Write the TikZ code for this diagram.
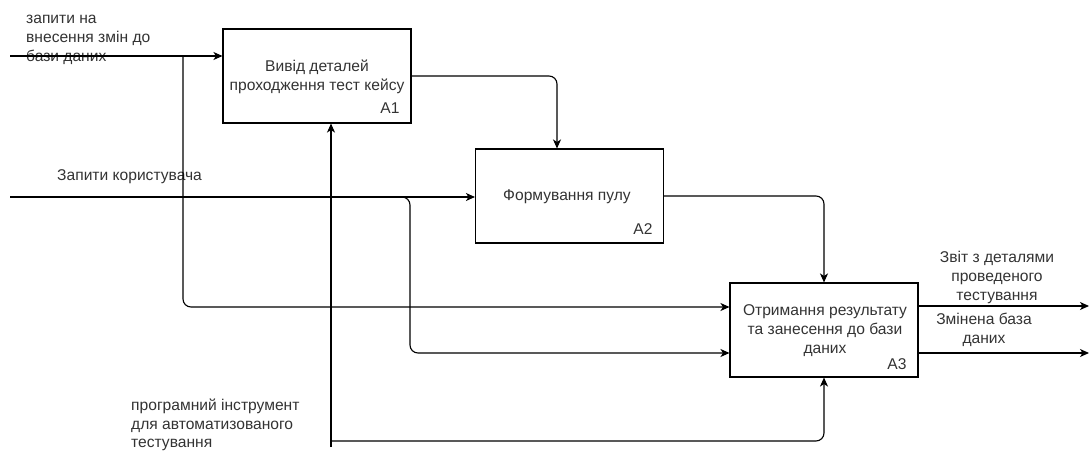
\documentclass[tikz,border=0pt]{standalone}
\usepackage{fontspec}
\setmainfont{Liberation Sans}
\usetikzlibrary{arrows.meta,calc}
\begin{document}
\begin{tikzpicture}[x=1pt,y=-1pt,
  box/.style={draw=black,line width=1.1pt,minimum width=188pt,minimum height=94pt,inner sep=0pt},
  txt/.style={text=black!80,font=\fontsize{15.6}{19}\selectfont,inner sep=0pt,align=center},
  ltxt/.style={txt,align=left},
  conn/.style={line width=1.1pt,draw=black},
  arr/.style={conn,-{Stealth[length=9pt,width=8pt,inset=2.5pt]}},
  rc/.style={rounded corners=8pt}]
\useasboundingbox (0,0) rectangle (1089,452);
% boxes
\node[box] (A1) at (317,76) {};
\node[box] (A2) at (569.5,196) {};
\node[box] (A3) at (824,330) {};
% box texts
\node[txt] (t1) at (317,77) {Вивід деталей\\проходження тест кейсу};
\node[txt] (n1) at (390,108) {A1};
\node[txt] (t2) at (567,197) {Формування пулу};
\node[txt] (n2) at (643,229) {A2};
\node[txt] (t3) at (825,331) {Отримання результату\\та занесення до бази\\даних};
\node[txt] (n3) at (897,364) {A3};
% labels
\node[ltxt,anchor=west] (l1) at (26,40) {запити на\\внесення змін до\\бази даних};
\node[ltxt,anchor=west] (l2) at (57,177) {Запити користувача};
\node[ltxt,anchor=south west,font=\fontsize{15.6}{18.5}\selectfont] (l3) at (131,451) {програмний інструмент\\для автоматизованого\\тестування};
\node[txt] (l4) at (997,277) {Звіт з деталями\\проведеного\\тестування};
\node[txt] (l5) at (984,330) {Змінена база\\даних};
% coordinates
\coordinate (in1) at (10,56);
\coordinate (j1) at (183,56);
\coordinate (in2) at (10,197);
\coordinate (j2) at (410,197);
\coordinate (c1) at (331,447);
\coordinate (c2) at (331,441);
\coordinate (o1) at (1089,306);
\coordinate (o2) at (1089,353);
% connectors
\draw[arr] (in1) -- (in1 -| A1.west);
\draw[arr,rc] (j1) |- ($(A3.west)+(0,-23)$);
\draw[arr,rc] (A1.east) -| ($(A2.north)+(-12.5,0)$);
\draw[arr] (in2) -- (in2 -| A2.west);
\draw[arr,rc] (in2) -| ($(j2)+(0,156)$) -- ($(A3.west)+(0,23)$);
\draw[arr,rc] (A2.east) -| (A3.north);
\draw[arr] (c1) -- (c1 |- A1.south);
\draw[arr,rc] (c2) -| (A3.south);
\draw[arr] ($(A3.east)+(0,-24)$) -- (o1);
\draw[arr] ($(A3.east)+(0,23)$) -- (o2);
\end{tikzpicture}
\end{document}
